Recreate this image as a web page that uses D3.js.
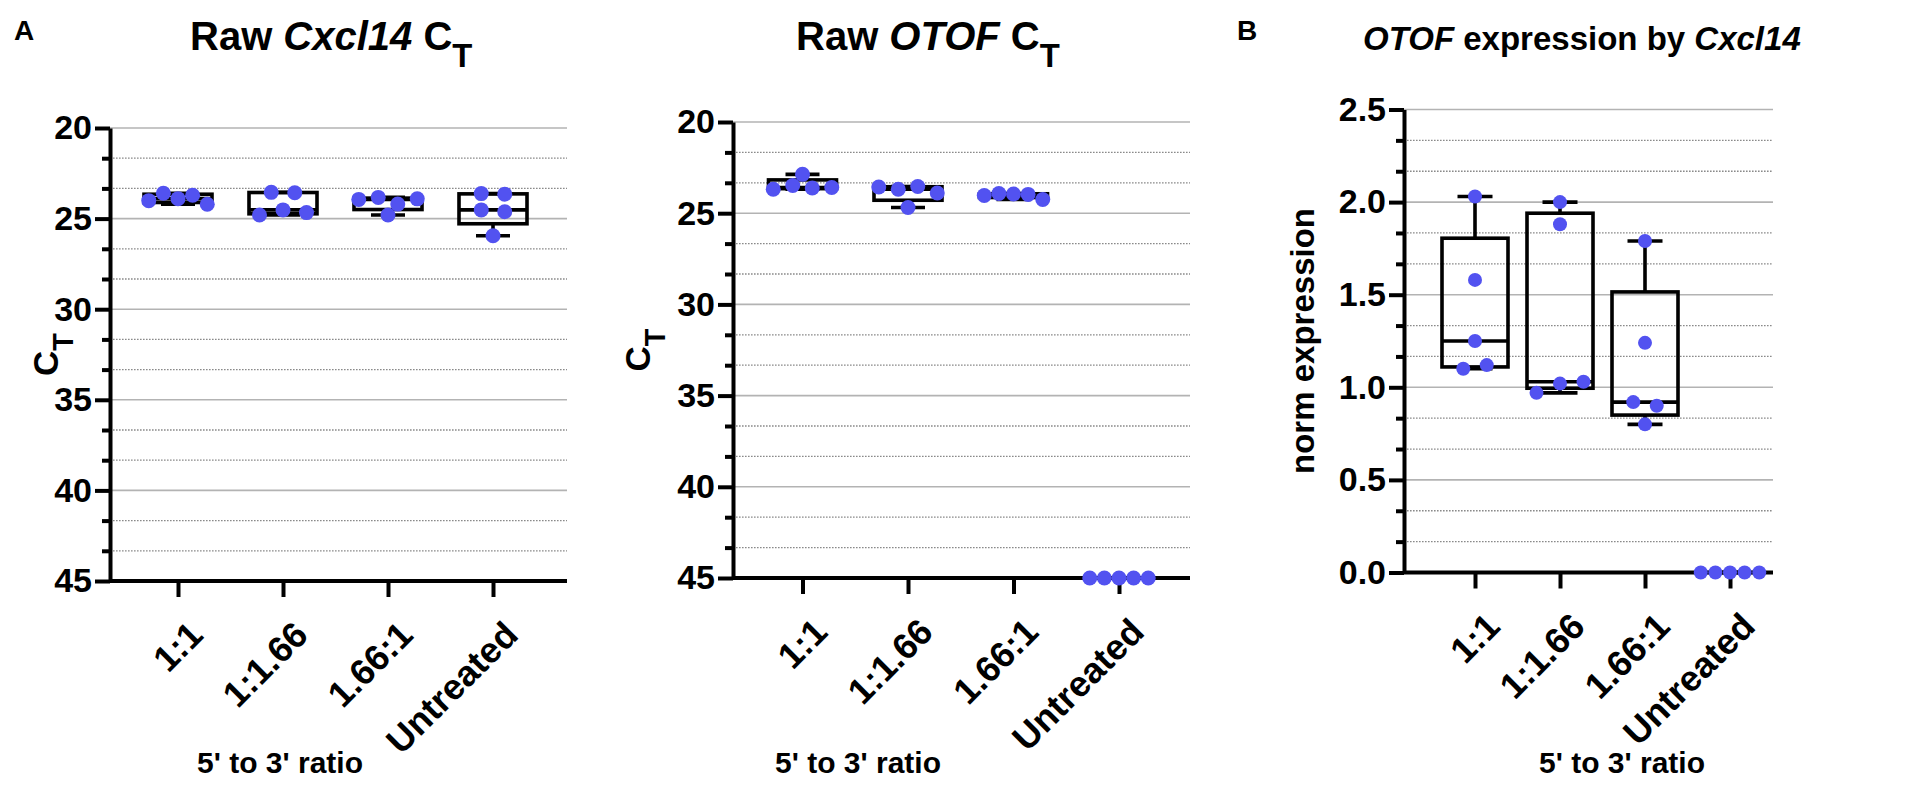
<!DOCTYPE html>
<html>
<head>
<meta charset="utf-8">
<script src="https://cdn.jsdelivr.net/npm/d3@7"></script>
<style>
  body { margin: 0; background: #fff; }
  text { font-family: "Liberation Sans", Arial, sans-serif; font-weight: bold; fill: #000; }
</style>
</head>
<body>
<svg id="chart" width="1908" height="787"></svg>
<script>
const groups = ["1:1", "1:1.66", "1.66:1", "Untreated"];

// values per group, listed left-to-right as they sit in each row of dots
const cxcl14Ct = [
  [24.01, 23.60, 23.90, 23.71, 24.21],
  [24.80, 23.55, 24.52, 23.57, 24.67],
  [23.94, 23.83, 24.20, 23.91, 24.80],
  [23.62, 23.65, 24.52, 24.62, 25.95]
];
const otofCt = [
  [22.87, 23.69, 23.48, 23.62, 23.59],
  [23.56, 23.69, 23.54, 23.89, 24.69],
  [24.03, 23.92, 23.95, 23.97, 24.25],
  [45, 45, 45, 45, 45]
];
const otofNorm = [
  [2.03, 1.58, 1.25, 1.10, 1.12],
  [2.00, 1.88, 0.97, 1.02, 1.03],
  [1.79, 1.24, 0.92, 0.90, 0.80],
  [0, 0, 0, 0, 0]
];
const ctTicks = [20, 25, 30, 35, 40, 45];
const normTicks = [0.0, 0.5, 1.0, 1.5, 2.0, 2.5];

const svg = d3.select("#chart");
const dotColor = "#5252f0";

const panels = [
  { data: cxcl14Ct, ticks: ctTicks, fmt: d3.format("d"), invert: true,
    left: 110, right: 567, first: 178, last: 493, top: 128, bottom: 581,
    r: 7.5, boxW: 68, capW: 34,
    title: [["Raw ", "n"], ["Cxcl14", "i"], [" C", "n"], ["T", "s"]], titleX: 190, titleSize: 40,
    yTitle: [["C", "n"], ["T", "s"]], yTitleX: 58, yTitleSize: 35, xTitleX: 280 },
  { data: otofCt, ticks: ctTicks, fmt: d3.format("d"), invert: true,
    left: 733, right: 1190, first: 802.5, last: 1119, top: 122, bottom: 578,
    r: 7.5, boxW: 68, capW: 34,
    title: [["Raw ", "n"], ["OTOF", "i"], [" C", "n"], ["T", "s"]], titleX: 796, titleSize: 40,
    yTitle: [["C", "n"], ["T", "s"]], yTitleX: 650, yTitleSize: 35, xTitleX: 858 },
  { data: otofNorm, ticks: normTicks, fmt: d3.format(".1f"), invert: false,
    left: 1404, right: 1773, first: 1475, last: 1730, top: 109.5, bottom: 572.5,
    r: 7, boxW: 66, capW: 35,
    title: [["OTOF", "i"], [" expression by ", "n"], ["Cxcl14", "i"]], titleX: 1363, titleSize: 33,
    yTitle: [["norm expression", "n"]], yTitleX: 1314, yTitleSize: 33, xTitleX: 1622 }
];

// GraphPad style quartiles, (n+1) method
function quart(s, p) {
  const h = (s.length + 1) * p - 1;
  const lo = Math.max(0, Math.min(s.length - 1, Math.floor(h)));
  const hi = Math.min(s.length - 1, lo + 1);
  const f = Math.max(0, Math.min(1, h - Math.floor(h)));
  return s[lo] + f * (s[hi] - s[lo]);
}

// put close values in one row and spread them sideways
function scatterOffsets(vals, y) {
  const order = vals.map((v, i) => i).sort((a, b) => y(vals[a]) - y(vals[b]));
  const rows = [];
  let cur = [order[0]];
  for (let k = 1; k < order.length; k++) {
    if (Math.abs(y(vals[order[k]]) - y(vals[order[k - 1]])) <= 10) cur.push(order[k]);
    else { rows.push(cur); cur = [order[k]]; }
  }
  rows.push(cur);
  const off = [];
  rows.forEach(row => {
    row.sort((a, b) => a - b);
    const n = row.length;
    const sp = n > 1 ? Math.min(23.5, 58.5 / (n - 1)) : 0;
    row.forEach((i, j) => { off[i] = (j - (n - 1) / 2) * sp; });
  });
  return off;
}

function addRich(sel, parts, size) {
  parts.forEach(([t, kind]) => {
    const ts = sel.append("tspan").text(t);
    if (kind === "i") ts.attr("font-style", "italic");
    if (kind === "s") ts.attr("font-size", size * 0.82).attr("dy", size * 0.42);
  });
}

panels.forEach(p => {
  const lo = p.ticks[0], hi = p.ticks[p.ticks.length - 1];
  const y = d3.scaleLinear().domain([lo, hi])
    .range(p.invert ? [p.top, p.bottom] : [p.bottom, p.top]);
  const x = d3.scalePoint().domain(groups).range([p.first, p.last]);

  const stepT = p.ticks[1] - p.ticks[0];
  const minor = [];
  p.ticks.slice(0, -1).forEach(t => { minor.push(t + stepT / 3, t + 2 * stepT / 3); });
  const baseVal = p.invert ? hi : lo;

  const g = svg.append("g");

  // gridlines
  g.selectAll(".gmaj").data(p.ticks.filter(t => t !== baseVal)).join("line")
    .attr("x1", p.left).attr("x2", p.right)
    .attr("y1", d => y(d)).attr("y2", d => y(d))
    .attr("stroke", "#b3b3b3").attr("stroke-width", 1.6);
  g.selectAll(".gmin").data(minor).join("line")
    .attr("x1", p.left).attr("x2", p.right)
    .attr("y1", d => y(d)).attr("y2", d => y(d))
    .attr("stroke", "#8a8a8a").attr("stroke-width", 1.3)
    .attr("stroke-dasharray", "1.6,1.4");

  // boxes
  p.data.forEach((vals, gi) => {
    const s = vals.slice().sort(d3.ascending);
    const q1 = quart(s, 0.25), med = quart(s, 0.5), q3 = quart(s, 0.75);
    const cx = x(groups[gi]);
    const bg = g.append("g").attr("fill", "none").attr("stroke", "#000").attr("stroke-width", 3.6);
    bg.append("line").attr("x1", cx).attr("x2", cx).attr("y1", y(s[0])).attr("y2", y(q1));
    bg.append("line").attr("x1", cx).attr("x2", cx).attr("y1", y(q3)).attr("y2", y(s[s.length - 1]));
    [s[0], s[s.length - 1]].forEach(v => {
      bg.append("line").attr("x1", cx - p.capW / 2).attr("x2", cx + p.capW / 2)
        .attr("y1", y(v)).attr("y2", y(v));
    });
    bg.append("rect").attr("x", cx - p.boxW / 2).attr("width", p.boxW)
      .attr("y", Math.min(y(q1), y(q3))).attr("height", Math.abs(y(q3) - y(q1)));
    bg.append("line").attr("x1", cx - p.boxW / 2).attr("x2", cx + p.boxW / 2)
      .attr("y1", y(med)).attr("y2", y(med));
  });

  // axes
  const yAxis = g.append("g").attr("transform", `translate(${p.left},0)`)
    .call(d3.axisLeft(y).tickValues(p.ticks).tickFormat(p.fmt).tickSize(15).tickSizeOuter(0).tickPadding(3));
  g.append("g").attr("transform", `translate(${p.left},0)`)
    .call(d3.axisLeft(y).tickValues(minor).tickFormat("").tickSize(8).tickSizeOuter(0))
    .select(".domain").remove();
  g.append("line").attr("x1", p.left).attr("x2", p.right)
    .attr("y1", p.bottom).attr("y2", p.bottom)
    .attr("stroke", "#000").attr("stroke-width", 4);
  g.append("g").attr("transform", `translate(0,${p.bottom})`)
    .call(d3.axisBottom(x).tickSize(16).tickSizeOuter(0).tickFormat(""))
    .select(".domain").remove();
  g.selectAll(".domain, .tick line").attr("stroke", "#000").attr("stroke-width", 4);
  yAxis.selectAll("text").attr("font-size", 34)
    .style("font-family", "Liberation Sans, Arial, sans-serif").style("font-weight", "bold");

  groups.forEach(c => {
    g.append("text")
      .attr("transform", `translate(${x(c) + 27},${p.bottom + 56}) rotate(-45)`)
      .attr("text-anchor", "end").attr("font-size", 36).text(c);
  });

  // dots
  p.data.forEach((vals, gi) => {
    const off = scatterOffsets(vals, y);
    g.selectAll(null).data(vals).join("circle")
      .attr("cx", (d, i) => x(groups[gi]) + off[i])
      .attr("cy", d => y(d)).attr("r", p.r).attr("fill", dotColor);
  });

  // titles
  const t = g.append("text").attr("x", p.titleX).attr("y", 50).attr("font-size", p.titleSize);
  addRich(t, p.title, p.titleSize);

  const yt = g.append("text")
    .attr("transform", `translate(${p.yTitleX},${(p.top + p.bottom) / 2}) rotate(-90)`)
    .attr("text-anchor", "middle").attr("font-size", p.yTitleSize);
  addRich(yt, p.yTitle, p.yTitleSize);

  g.append("text").attr("x", p.xTitleX).attr("y", 773)
    .attr("text-anchor", "middle").attr("font-size", 30).text("5' to 3' ratio");
});

svg.append("text").attr("x", 14).attr("y", 40).attr("font-size", 28).text("A");
svg.append("text").attr("x", 1237).attr("y", 40).attr("font-size", 28).text("B");
</script>
</body>
</html>
